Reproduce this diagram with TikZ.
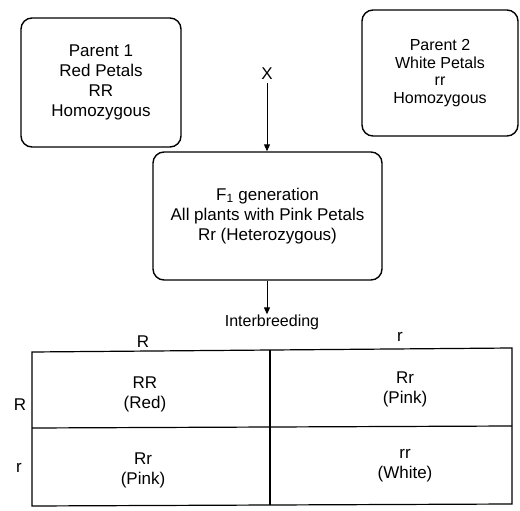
\documentclass[tikz,border=0pt]{standalone}
\usepackage{fontspec}
\setmainfont{Liberation Sans}
\usetikzlibrary{arrows.meta}
\begin{document}
\begin{tikzpicture}[x=1pt,y=-1pt,
  box/.style={draw, line width=1.4pt, rounded corners=11pt, align=center, inner sep=0pt},
  txt/.style={font=\fontsize{17}{20}\selectfont, align=center, inner sep=0pt},
  arr/.style={-{Triangle[length=7pt,width=6pt]}, line width=1pt},
  grid/.style={line width=1.2pt}]
\useasboundingbox (0,0) rectangle (520,511);
% parents
\node[box, txt, minimum width=160pt, minimum height=129pt] (p1) at (101,82.5)
  {Parent 1\\Red Petals\\RR\\Homozygous};
\node[box, font=\fontsize{16}{17.5}\selectfont, minimum width=156pt, minimum height=126pt] (p2) at (440,73)
  {Parent 2\\White Petals\\rr\\Homozygous};
\node[txt] (x) at (267,74) {X};
\node[box, txt, minimum width=229pt, minimum height=128pt] (f1) at (267.5,216)
  {F\textsubscript{1} generation\\All plants with Pink Petals\\Rr (Heterozygous)};
\draw[arr, shorten <=3pt] (x.south) -- (x.south |- f1.north);
\node[txt, font=\fontsize{16}{18}\selectfont] (inter) at (272,322) {Interbreeding};
\draw[arr] (f1.south -| x.south) -- (inter.north -| x.south);
% allele labels
\node[txt] (cR) at (143,342) {R};
\node[txt] (cr) at (400,337) {r};
\node[txt] (rR) at (20,405) {R};
\node[txt] (rr) at (19,468) {r};
% grid
\coordinate (tl) at (32,352);
\coordinate (tr) at (512,348);
\coordinate (bl) at (32,506);
\coordinate (br) at (512,504);
\draw[grid] (tl) -- (tr) -- (br) -- (bl) -- cycle;
\draw[grid] (32,428) -- (512,426);
\draw[grid] (270,350) -- (270,505);
% cells
\node[txt] (c11) at (145,394) {RR\\(Red)};
\node[txt] (c12) at (405,389) {Rr\\(Pink)};
\node[txt] (c21) at (143,470) {Rr\\(Pink)};
\node[txt] (c22) at (405,466) {rr\\(White)};
\end{tikzpicture}
\end{document}
